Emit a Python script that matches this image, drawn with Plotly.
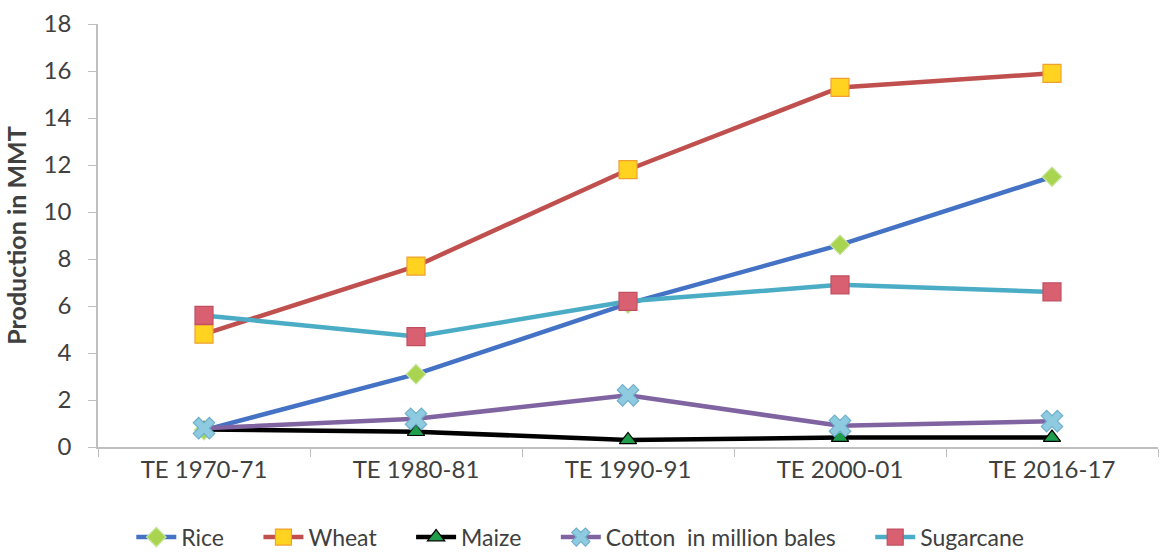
import plotly.graph_objects as go

periods = ["TE 1970-71", "TE 1980-81", "TE 1990-91", "TE 2000-01", "TE 2016-17"]
rice = [0.72, 3.1, 6.1, 8.6, 11.5]
wheat = [4.8, 7.7, 11.8, 15.3, 15.9]
maize = [0.75, 0.65, 0.3, 0.4, 0.4]
cotton = [0.8, 1.2, 2.2, 0.9, 1.1]
sugarcane = [5.6, 4.7, 6.2, 6.9, 6.6]

series = [
    ("Rice", rice, "#4472C4", "diamond", "#A9D44F", "#C8E6A0", 15),
    ("Wheat", wheat, "#C0504D", "square", "#FFD320", "#F0A030", 18),
    ("Maize", maize, "#000000", "triangle-up", "#1E9E4A", "#000000", 15),
    ("Cotton  in million bales", cotton, "#8064A2", "x", "#8FCBE0", "#6FB0CC", 19),
    ("Sugarcane", sugarcane, "#4BACC6", "square", "#D86070", "#C05060", 18),
]

fig = go.Figure()
for i, (name, vals, lc, sym, mfill, mline, msize) in enumerate(series):
    # extra non-breaking spaces widen the gap between legend entries
    pad = "\u00a0" * 5 if i < len(series) - 1 else ""
    fig.add_trace(go.Scatter(
        x=periods, y=vals, name=name + pad, mode="lines+markers",
        line=dict(color=lc, width=4.5),
        marker=dict(symbol=sym, size=msize, color=mfill,
                    line=dict(color=mline, width=1.2)),
    ))

font_family = "Lato, 'Open Sans', sans-serif"
fig.update_layout(
    width=1161, height=554,
    margin=dict(l=98, r=3, t=24, b=107, autoexpand=False),
    paper_bgcolor="white", plot_bgcolor="white",
    font=dict(family=font_family, color="#404040", size=22),
    showlegend=True,
    legend=dict(orientation="h", x=0.455, xanchor="center", y=-0.213, yanchor="middle",
                font=dict(size=23, color="#404040"), itemwidth=40,
                traceorder="normal"),
    xaxis=dict(
        type="category", range=[-0.5, 4.5], showgrid=False,
        showline=True, linecolor="#BFBFBF", linewidth=1.5,
        ticks="outside", tickson="boundaries", ticklen=8, tickcolor="#BFBFBF",
        tickfont=dict(size=24, color="#404040"),
    ),
    yaxis=dict(
        range=[0, 18], dtick=2, showgrid=False, zeroline=False,
        showline=True, linecolor="#BFBFBF", linewidth=1.5,
        ticks="outside", ticklen=8, tickcolor="#BFBFBF",
        ticklabelstandoff=12,
        tickfont=dict(size=24, color="#404040"),
        title=dict(text="<b>Production in MMT</b>", font=dict(size=25, color="#404040"),
                   standoff=10),
    ),
)

fig.write_html("out.html")
